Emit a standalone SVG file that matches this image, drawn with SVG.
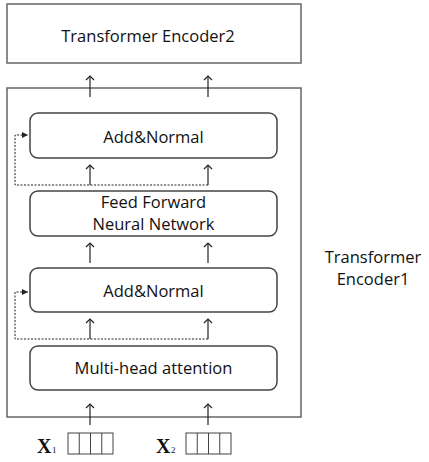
<svg xmlns="http://www.w3.org/2000/svg" width="429" height="462" viewBox="0 0 429 462">
<defs>
<marker id="open" viewBox="0 0 10 10" refX="9" refY="5" markerWidth="10" markerHeight="10" markerUnits="userSpaceOnUse" orient="auto-start-reverse">
<path d="M5,1 L9,5 L5,9" fill="none" stroke="#222" stroke-width="1.2"/>
</marker>
<marker id="tri" viewBox="0 0 6 6" refX="6" refY="3" markerWidth="6" markerHeight="6" markerUnits="userSpaceOnUse" orient="auto">
<path d="M0,0 L6,3 L0,6 Z" fill="#222"/>
</marker>
<style>
.box{fill:#fff;stroke:#666;stroke-width:1.5}
.rbox{fill:#fff;stroke:#444;stroke-width:1.5}
.t{font-family:"Open Sans","Liberation Sans",sans-serif;font-size:16.5px;fill:#111;text-anchor:middle}
.arr{stroke:#222;stroke-width:1.2;fill:none;marker-start:url(#open)}
.dash{stroke:#222;stroke-width:1;fill:none;stroke-dasharray:2,1.5}
.cell{fill:#fff;stroke:#444;stroke-width:1}
.x{font-family:"Liberation Serif",serif;font-size:20px;font-weight:bold;fill:#111}
.sub{font-family:"Liberation Serif",serif;font-size:9px;fill:#111}
</style>
</defs>
<g id="encoder2"><rect class="box" x="7" y="4" width="294" height="59"/><text class="t" x="148" y="42">Transformer Encoder2</text></g>
<g id="encoder1"><rect class="box" x="7" y="88" width="294" height="329"/></g>
<g id="encoder1-label"><text class="t" x="373" y="263">Transformer</text><text class="t" x="373" y="285">Encoder1</text></g>
<g id="addnorm2"><rect class="rbox" x="30" y="113" width="247" height="45" rx="8"/><text class="t" x="153.5" y="143">Add&amp;Normal</text></g>
<g id="ffn"><rect class="rbox" x="30" y="191" width="247" height="45" rx="8"/><text class="t" x="153.5" y="208">Feed Forward</text><text class="t" x="153.5" y="230">Neural Network</text></g>
<g id="addnorm1"><rect class="rbox" x="30" y="268" width="247" height="44" rx="8"/><text class="t" x="153.5" y="297">Add&amp;Normal</text></g>
<g id="mha"><rect class="rbox" x="30" y="346" width="247" height="44" rx="8"/><text class="t" x="153.5" y="374">Multi-head attention</text></g>
<g id="x1"><text class="x" x="37" y="453">X</text><text class="sub" x="52" y="453">1</text>
<rect class="cell" x="68" y="433" width="45" height="21"/><path class="cell" d="M79.25,433V454M90.5,433V454M101.75,433V454"/></g>
<g id="x2"><text class="x" x="156" y="453">X</text><text class="sub" x="171" y="453">2</text>
<rect class="cell" x="186" y="433" width="45" height="21"/><path class="cell" d="M197.25,433V454M208.5,433V454M219.75,433V454"/></g>
<g id="connectors">
<path class="arr" d="M90,76V97"/><path class="arr" d="M208,76V97"/>
<path class="arr" d="M90,165V185"/><path class="arr" d="M208,165V185"/>
<path class="arr" d="M90,243V263"/><path class="arr" d="M208,243V263"/>
<path class="arr" d="M90,319V339"/><path class="arr" d="M208,319V339"/>
<path class="arr" d="M90,404V425"/><path class="arr" d="M208,404V425"/>
<path class="dash" d="M208,185H15V135H28" marker-end="url(#tri)"/>
<path class="dash" d="M208,339H15V292H28" marker-end="url(#tri)"/>
</g>
</svg>
